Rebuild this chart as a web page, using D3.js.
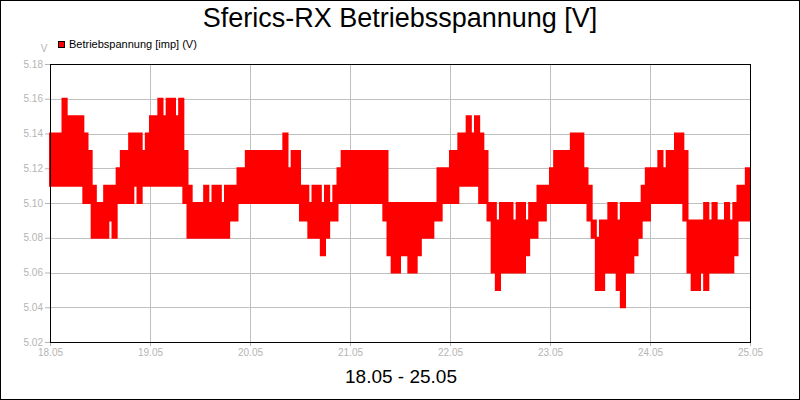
<!DOCTYPE html>
<html>
<head>
<meta charset="utf-8">
<script src="https://cdn.jsdelivr.net/npm/d3@7"></script>
<style>
  body { margin: 0; background: #fff; }
  svg { display: block; font-family: "Liberation Sans", Arial, sans-serif; }
</style>
</head>
<body>
<svg id="chart" width="800" height="400"></svg>
<script>
// hourly min / max of the supply voltage, 18.05 00:00 .. 25.05 00:00
const voltLow = [
  5.11, 5.11, 5.11, 5.11, 5.11, 5.11, 5.11, 5.11, 5.10, 5.10, 5.08, 5.08, 5.08, 5.08, 5.09, 5.08,
  5.10, 5.10, 5.10, 5.10, 5.11, 5.10, 5.11, 5.11, 5.11, 5.11, 5.11, 5.11, 5.11, 5.11, 5.11, 5.11,
  5.10, 5.08, 5.08, 5.08, 5.08, 5.08, 5.08, 5.08, 5.08, 5.08, 5.08, 5.09, 5.09, 5.10, 5.10, 5.10,
  5.10, 5.10, 5.10, 5.10, 5.10, 5.10, 5.10, 5.10, 5.10, 5.10, 5.10, 5.10, 5.09, 5.09, 5.08, 5.08,
  5.08, 5.07, 5.08, 5.09, 5.09, 5.10, 5.10, 5.10, 5.10, 5.10, 5.10, 5.10, 5.10, 5.10, 5.10, 5.10,
  5.09, 5.07, 5.06, 5.06, 5.07, 5.07, 5.06, 5.06, 5.07, 5.08, 5.08, 5.08, 5.09, 5.09, 5.10, 5.10,
  5.10, 5.10, 5.11, 5.11, 5.11, 5.11, 5.11, 5.10, 5.10, 5.09, 5.06, 5.05, 5.06, 5.06, 5.06, 5.06,
  5.06, 5.06, 5.07, 5.08, 5.08, 5.09, 5.09, 5.10, 5.10, 5.10, 5.10, 5.10, 5.10, 5.10, 5.10, 5.10,
  5.10, 5.09, 5.08, 5.05, 5.05, 5.06, 5.06, 5.06, 5.05, 5.04, 5.06, 5.06, 5.07, 5.08, 5.09, 5.09,
  5.10, 5.10, 5.10, 5.10, 5.10, 5.10, 5.10, 5.10, 5.09, 5.06, 5.05, 5.05, 5.06, 5.05, 5.06, 5.06,
  5.06, 5.06, 5.06, 5.06, 5.07, 5.09, 5.09, 5.09
];
const voltHigh = [
  5.14, 5.14, 5.14, 5.16, 5.15, 5.15, 5.15, 5.15, 5.14, 5.13, 5.11, 5.10, 5.10, 5.11, 5.11, 5.11,
  5.12, 5.13, 5.13, 5.14, 5.14, 5.14, 5.13, 5.14, 5.15, 5.15, 5.16, 5.15, 5.16, 5.16, 5.15, 5.16,
  5.13, 5.11, 5.10, 5.10, 5.10, 5.11, 5.10, 5.11, 5.11, 5.10, 5.11, 5.11, 5.11, 5.12, 5.12, 5.13,
  5.13, 5.13, 5.13, 5.13, 5.13, 5.13, 5.13, 5.13, 5.14, 5.12, 5.13, 5.13, 5.11, 5.11, 5.10, 5.11,
  5.11, 5.10, 5.11, 5.10, 5.11, 5.12, 5.13, 5.13, 5.13, 5.13, 5.13, 5.13, 5.13, 5.13, 5.13, 5.13,
  5.13, 5.10, 5.10, 5.10, 5.10, 5.10, 5.10, 5.10, 5.10, 5.10, 5.10, 5.10, 5.10, 5.12, 5.12, 5.12,
  5.13, 5.13, 5.14, 5.14, 5.15, 5.14, 5.15, 5.14, 5.13, 5.10, 5.10, 5.09, 5.10, 5.10, 5.10, 5.09,
  5.10, 5.10, 5.09, 5.10, 5.10, 5.11, 5.11, 5.11, 5.12, 5.13, 5.13, 5.13, 5.13, 5.14, 5.14, 5.14,
  5.12, 5.11, 5.09, 5.08, 5.09, 5.09, 5.10, 5.10, 5.09, 5.10, 5.10, 5.10, 5.10, 5.10, 5.11, 5.12,
  5.12, 5.12, 5.13, 5.12, 5.13, 5.13, 5.14, 5.14, 5.13, 5.09, 5.09, 5.09, 5.09, 5.10, 5.09, 5.10,
  5.09, 5.09, 5.10, 5.09, 5.10, 5.11, 5.11, 5.12
];
const yTicks = [5.02, 5.04, 5.06, 5.08, 5.10, 5.12, 5.14, 5.16, 5.18];
const dayLabels = ["18.05", "19.05", "20.05", "21.05", "22.05", "23.05", "24.05", "25.05"];

const title = "Sferics-RX Betriebsspannung [V]";
const legendLabel = "Betriebspannung [imp] (V)";
const xTitle = "18.05 - 25.05";

const W = 800, H = 400;
const plot = { left: 50, right: 750, top: 64, bottom: 342 };
const gridColor = "#c0c0c0";
const tickColor = "#b4b4b4";
const lineColor = "#ff0000";

const svg = d3.select("#chart");

const x = d3.scaleLinear().domain([0, dayLabels.length - 1]).range([plot.left, plot.right]);
const y = d3.scaleLinear().domain([5.02, 5.18]).range([plot.bottom, plot.top]);

// outer frame
svg.append("rect")
    .attr("x", 0.5).attr("y", 0.5)
    .attr("width", W - 1).attr("height", H - 1)
    .attr("fill", "#fff").attr("stroke", "#000");

// grid
svg.append("g").selectAll("line")
    .data(yTicks)
    .join("line")
    .attr("x1", plot.left).attr("x2", plot.right)
    .attr("y1", d => Math.round(y(d)) + 0.5).attr("y2", d => Math.round(y(d)) + 0.5)
    .attr("stroke", gridColor);

svg.append("g").selectAll("line")
    .data(dayLabels.map((d, i) => i))
    .join("line")
    .attr("x1", d => Math.round(x(d)) + 0.5).attr("x2", d => Math.round(x(d)) + 0.5)
    .attr("y1", plot.top).attr("y2", plot.bottom)
    .attr("stroke", gridColor);

// axes
const yAxis = svg.append("g")
    .attr("transform", `translate(${plot.left},0)`)
    .call(d3.axisLeft(y).tickValues(yTicks).tickSize(5).tickPadding(2).tickFormat(d3.format(".2f")));

const xAxis = svg.append("g")
    .attr("transform", `translate(0,${plot.bottom})`)
    .call(d3.axisBottom(x).tickValues(dayLabels.map((d, i) => i)).tickSize(4).tickPadding(3)
        .tickFormat(i => dayLabels[i]));

[yAxis, xAxis].forEach(g => {
    g.select(".domain").remove();
    g.selectAll(".tick line").attr("stroke", tickColor);
    g.selectAll(".tick text")
        .attr("fill", tickColor)
        .style("font-family", "'Liberation Sans', Arial, sans-serif")
        .style("font-size", "10px");
});

// data band: hourly min..max
const hourly = voltLow.map((lo, i) => ({ t: i / 24, lo: lo, hi: voltHigh[i] }));
hourly.push({ t: voltLow.length / 24, lo: voltLow[voltLow.length - 1], hi: voltHigh[voltHigh.length - 1] });

svg.append("path")
    .datum(hourly)
    .attr("d", d3.area()
        .curve(d3.curveStepAfter)
        .x(d => x(d.t))
        .y0(d => y(d.lo))
        .y1(d => y(d.hi)))
    .attr("fill", lineColor)
    .attr("stroke", lineColor)
    .attr("stroke-width", 2)
    .attr("stroke-linejoin", "miter");

// plot frame
svg.append("rect")
    .attr("x", plot.left + 0.5).attr("y", plot.top + 0.5)
    .attr("width", plot.right - plot.left).attr("height", plot.bottom - plot.top)
    .attr("fill", "none").attr("stroke", "#000");

// title
svg.append("text")
    .attr("x", 400).attr("y", 27)
    .attr("text-anchor", "middle")
    .style("font-size", "27px")
    .text(title);

// legend
svg.append("rect")
    .attr("x", 58.5).attr("y", 41.5)
    .attr("width", 6).attr("height", 6)
    .attr("fill", lineColor).attr("stroke", "#000");

svg.append("text")
    .attr("x", 69).attr("y", 48)
    .style("font-size", "11px")
    .text(legendLabel);

// unit label
svg.append("text")
    .attr("x", 44).attr("y", 52)
    .attr("text-anchor", "middle")
    .attr("fill", tickColor)
    .style("font-size", "10px")
    .text("V");

// x title
svg.append("text")
    .attr("x", 401).attr("y", 383)
    .attr("text-anchor", "middle")
    .style("font-size", "19px")
    .text(xTitle);
</script>
</body>
</html>
